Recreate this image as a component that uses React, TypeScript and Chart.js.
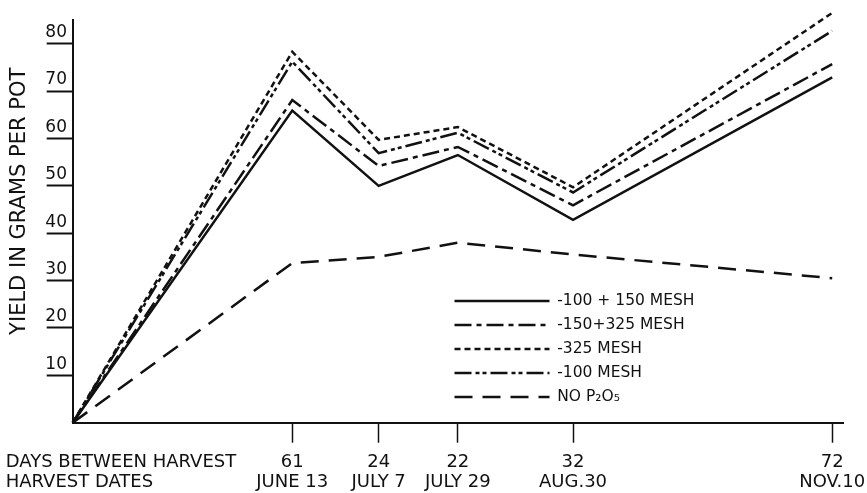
import React, { useEffect, useRef } from "react";
import { Chart, registerables } from "chart.js";

Chart.register(...registerables);

// ---- data ----
const harvestDays = [0, 61, 85, 107, 139, 211]; // cumulative days since planting
const daysBetween = ["61", "24", "22", "32", "72"];
const harvestDates = ["JUNE 13", "JULY 7", "JULY 29", "AUG.30", "NOV.10"];
const rowHeaders = ["DAYS BETWEEN HARVEST", "HARVEST DATES"];
const yTickValues = [10, 20, 30, 40, 50, 60, 70, 80];
const yTitle = "YIELD IN GRAMS PER POT";
const seriesNames = ["-100 + 150 MESH", "-150+325 MESH", "-325 MESH", "-100 MESH", "NO P\u2082O\u2085"];
const mesh100plus150 = [0, 65.9, 50.0, 56.5, 42.8, 72.9];
const mesh150plus325 = [0, 68.1, 54.2, 58.2, 45.9, 75.7];
const mesh325 = [0, 78.3, 59.7, 62.4, 49.7, 86.5];
const mesh100 = [0, 76.2, 56.9, 61.2, 48.6, 82.7];
const noP2O5 = [0, 33.7, 35.0, 38.0, 35.5, 30.5];

const FONT = "'DejaVu Sans', sans-serif";
const INK = "#111111";
const seriesValues = [mesh100plus150, mesh150plus325, mesh325, mesh100, noP2O5];
const seriesDash = [[], [17, 5, 5, 5], [6, 4], [17, 4, 4, 3, 4, 4], [18, 10]];

const legendMover = {
  id: "legendMover",
  afterLayout(chart: any) {
    const lg = chart.legend;
    if (!lg) return;
    lg.left = 446;
    lg.top = 284.7;
    lg.right = 446 + 420;
    lg.bottom = 284.7 + 200;
  },
};

export default function App() {
  const canvasRef = useRef<HTMLCanvasElement | null>(null);

  useEffect(() => {
    if (!canvasRef.current) return;
    Chart.defaults.font.family = FONT;
    Chart.defaults.color = INK;
    const baseLabels = (Chart.defaults as any).plugins.legend.labels.generateLabels;
    const chart = new Chart(canvasRef.current, {
      type: "line",
      data: {
        datasets: seriesNames.map((name, i) => ({
          label: name,
          data: harvestDays.map((d, j) => ({ x: d, y: seriesValues[i][j] })),
          borderColor: INK,
          backgroundColor: INK,
          borderWidth: 2.5,
          borderDash: seriesDash[i],
          borderCapStyle: "butt",
          borderJoinStyle: "miter",
          pointRadius: 0,
          pointHoverRadius: 0,
          pointStyle: "line",
          tension: 0,
          fill: false,
          clip: false,
          xAxisID: "x",
          yAxisID: "y",
        })),
      },
      options: {
        animation: false,
        responsive: true,
        maintainAspectRatio: false,
        events: [],
        layout: { padding: { top: 20, right: 24, bottom: 0, left: 0 } },
        scales: {
          x: {
            type: "linear",
            position: "bottom",
            min: 0,
            max: 214,
            afterBuildTicks: (s: any) => {
              s.ticks = harvestDays.slice(1).map((v) => ({ value: v }));
            },
            afterFit: (s: any) => {
              s.height = 70.3;
              s.paddingLeft = 0;
              s.paddingRight = 0;
            },
            grid: { drawOnChartArea: false, drawTicks: true, tickLength: 20, tickWidth: 1.5, tickColor: INK },
            border: { display: true, color: INK, width: 2 },
            ticks: {
              autoSkip: false,
              maxRotation: 0,
              minRotation: 0,
              padding: 9,
              color: INK,
              font: { family: FONT, size: 18, lineHeight: 1.15 },
              callback: (_v: any, i: number) => [daysBetween[i], harvestDates[i]],
            },
          },
          xh: {
            type: "linear",
            axis: "x",
            position: { y: 0 },
            min: 0,
            max: 214,
            afterBuildTicks: (s: any) => {
              s.ticks = [{ value: 0 }];
            },
            afterFit: (s: any) => {
              s.paddingLeft = 0;
              s.paddingRight = 0;
            },
            grid: { drawOnChartArea: false, drawTicks: true, tickLength: 20, tickColor: "rgba(0,0,0,0)" },
            border: { display: false },
            ticks: {
              autoSkip: false,
              maxRotation: 0,
              minRotation: 0,
              align: "start",
              labelOffset: -67,
              padding: 9,
              color: INK,
              font: { family: FONT, size: 18, lineHeight: 1.15 },
              callback: () => rowHeaders,
            },
          },
          y: {
            type: "linear",
            position: "left",
            min: 0,
            max: 85,
            afterBuildTicks: (s: any) => {
              s.ticks = yTickValues.map((v) => ({ value: v }));
            },
            afterFit: (s: any) => {
              s.width = 72.7;
              s.paddingTop = 0;
              s.paddingBottom = 0;
            },
            grid: { drawOnChartArea: false, drawTicks: true, tickLength: 26, tickWidth: 2, tickColor: INK },
            border: { display: true, color: INK, width: 2 },
            ticks: {
              padding: -20.3,
              labelOffset: -11,
              color: INK,
              font: { family: FONT, size: 17 },
              callback: (v: any) => String(v),
            },
            title: {
              display: true,
              text: "      " + yTitle,
              color: INK,
              font: { family: FONT, size: 21 },
              padding: { top: 6.5, bottom: 0 },
            },
          },
        },
        plugins: {
          legend: {
            position: "chartArea",
            align: "start",
            labels: {
              usePointStyle: true,
              pointStyle: "line",
              pointStyleWidth: 95,
              padding: 8.5,
              color: INK,
              font: { family: FONT, size: 15.5 },
              generateLabels: (c: any) =>
                baseLabels(c).map((it: any) => ({
                  ...it,
                  lineDash: seriesDash[it.datasetIndex],
                  lineWidth: 2.5,
                  strokeStyle: INK,
                  pointStyle: "line",
                })),
            },
          },
          tooltip: { enabled: false },
        },
      } as any,
      plugins: [legendMover],
    });
    return () => chart.destroy();
  }, []);

  return (
    <div style={{ position: "fixed", left: 0, top: 0, width: 867, height: 493, background: "#fff" }}>
      <canvas ref={canvasRef} />
    </div>
  );
}
